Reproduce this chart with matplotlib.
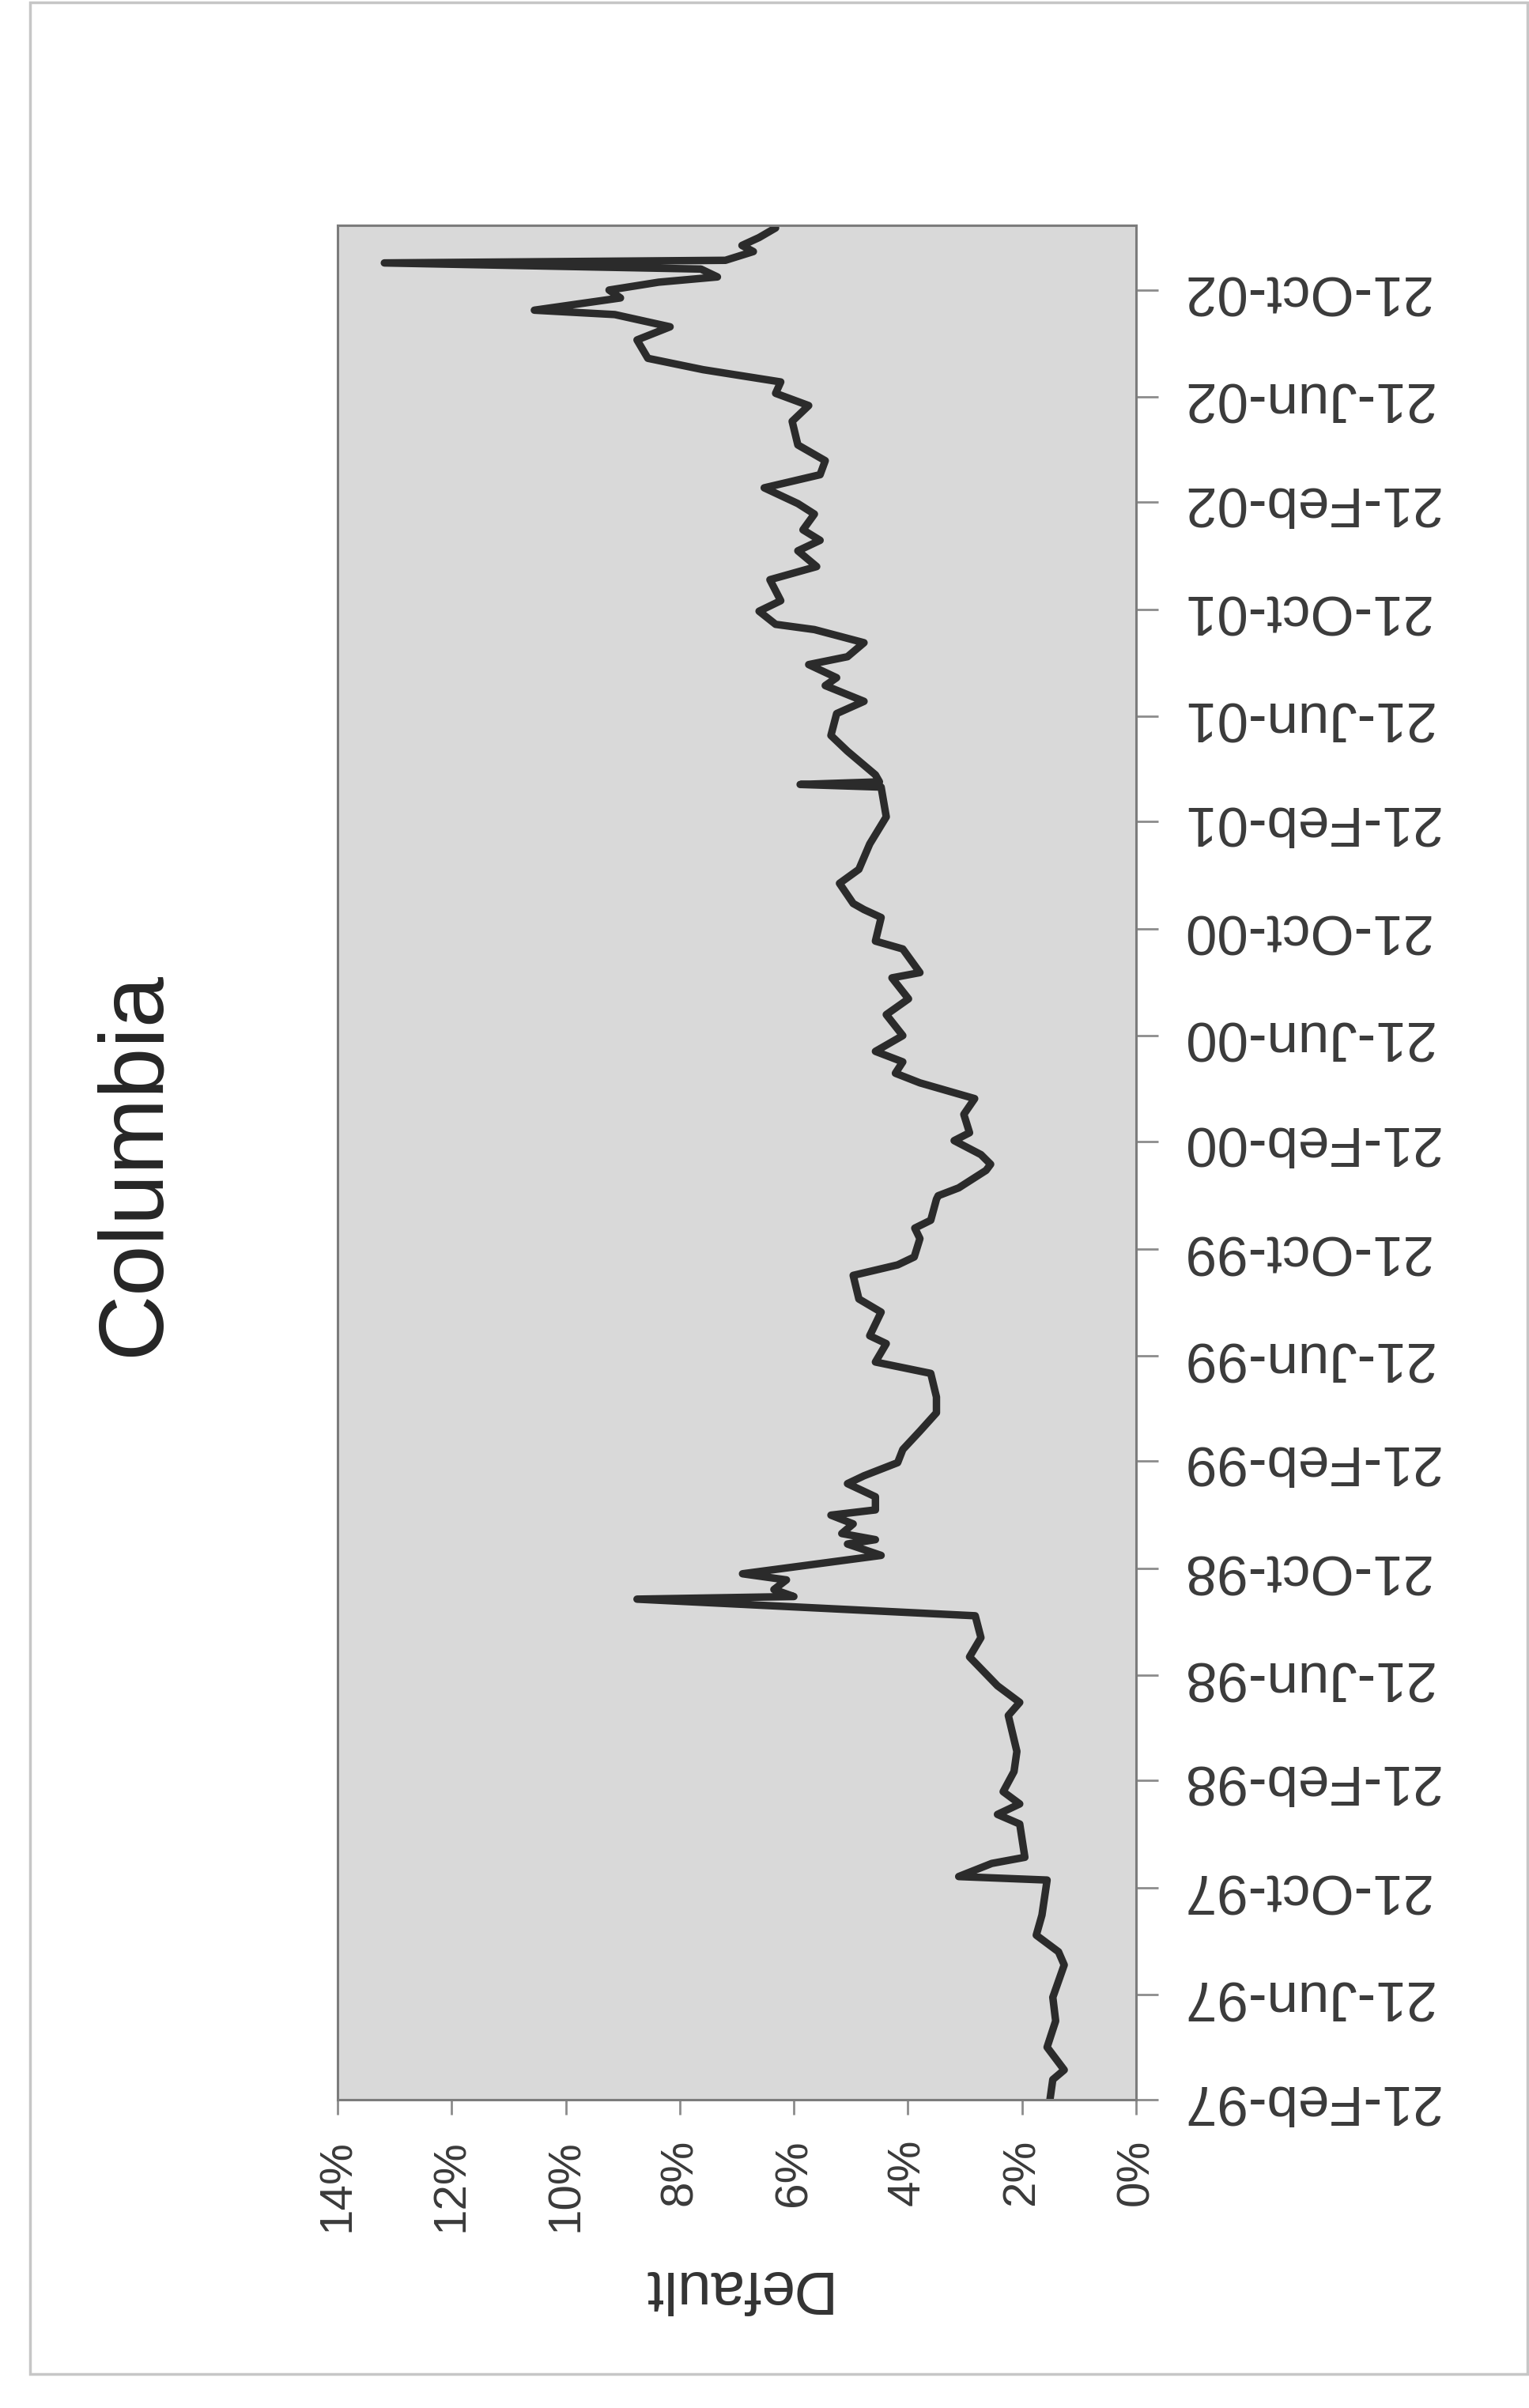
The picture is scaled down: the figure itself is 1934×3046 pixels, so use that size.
import matplotlib
matplotlib.use('Agg')
import numpy as np
import pandas as pd
import matplotlib.pyplot as plt
import matplotlib.dates as mdates
from matplotlib.patches import Rectangle

# Default rate series, observation day counted from 21-Feb-97
start_date = '1997-02-21'
obs_day = [0, 23, 34, 60, 90, 117, 154, 169, 188, 211, 251, 255, 270, 277, 315,
           326, 338, 352, 375, 398, 439, 454, 473, 506, 528, 553, 572, 575, 583,
           594, 601, 622, 635, 640, 647, 658, 668, 674, 689, 704, 713, 728, 743,
           764, 785, 803, 830, 843, 864, 873, 900, 915, 942, 954, 963, 984, 996,
           1005, 1029, 1033, 1042, 1062, 1069, 1080, 1096, 1105, 1126, 1144, 1162,
           1173, 1186, 1198, 1216, 1240, 1258, 1282, 1288, 1315, 1324, 1351, 1360,
           1367, 1390, 1406, 1435, 1466, 1500, 1503, 1506, 1514, 1541, 1559, 1584,
           1598, 1616, 1625, 1640, 1649, 1665, 1680, 1686, 1701, 1713, 1737, 1752,
           1770, 1782, 1794, 1812, 1824, 1842, 1857, 1873, 1891, 1918, 1936, 1950,
           1963, 1977, 1990, 2011, 2026, 2040, 2045, 2059, 2068, 2077, 2083, 2092,
           2099, 2102, 2112, 2119, 2128, 2139]
default_pct = [1.51, 1.46, 1.26, 1.56, 1.41, 1.46, 1.26, 1.36, 1.75, 1.65, 1.56, 3.11,
               2.53, 1.95, 2.04, 2.43, 2.04, 2.33, 2.14, 2.09, 2.24, 2.04, 2.43, 2.92,
               2.72, 2.82, 8.75, 6.00, 6.35, 6.13, 6.90, 4.47, 5.06, 4.57, 5.16, 4.96,
               5.35, 4.57, 4.57, 5.06, 4.77, 4.18, 4.09, 3.79, 3.50, 3.50, 3.60, 4.57,
               4.38, 4.67, 4.47, 4.86, 4.96, 4.18, 3.89, 3.79, 3.88, 3.60, 3.50, 3.47,
               3.11, 2.63, 2.55, 2.72, 3.19, 2.92, 3.02, 2.83, 3.79, 4.22, 4.09, 4.57,
               4.09, 4.38, 3.99, 4.28, 3.79, 4.09, 4.57, 4.47, 4.77, 4.96, 5.20, 4.86,
               4.67, 4.38, 4.47, 5.89, 4.50, 4.57, 5.06, 5.35, 5.25, 4.77, 5.45, 5.25,
               5.74, 5.06, 4.77, 5.64, 6.32, 6.61, 6.23, 6.42, 5.60, 5.93, 5.54, 5.84,
               5.64, 5.93, 6.52, 5.54, 5.45, 5.93, 6.03, 5.74, 6.32, 6.23, 7.59, 8.56,
               8.75, 8.17, 9.14, 10.55, 9.04, 9.24, 8.37, 7.34, 7.63, 13.18, 7.20, 6.71,
               6.91, 6.61, 6.32]
axis_days = 2142

date_labels = ['21-Feb-97', '21-Jun-97', '21-Oct-97', '21-Feb-98', '21-Jun-98',
               '21-Oct-98', '21-Feb-99', '21-Jun-99', '21-Oct-99', '21-Feb-00',
               '21-Jun-00', '21-Oct-00', '21-Feb-01', '21-Jun-01', '21-Oct-01',
               '21-Feb-02', '21-Jun-02', '21-Oct-02']
pct_ticks = [0, 2, 4, 6, 8, 10, 12, 14]

plt.rcParams['font.family'] = ['Liberation Sans', 'DejaVu Sans']

W, H = 1934, 3046
fig = plt.figure(figsize=(W / 100, H / 100), dpi=100)
fig.patch.set_facecolor('white')

# page border
fig.patches.append(Rectangle((38 / W, 1 - 3003 / H), (1932 - 38) / W, (3003 - 3) / H,
                             transform=fig.transFigure, fill=False,
                             ec='#c6c6c6', lw=2.5))

ax = fig.add_axes([427 / W, 1 - 2656 / H, 1010 / W, (2656 - 285) / H])
ax.set_facecolor('#d9d9d9')

start = pd.Timestamp(start_date)
dates = start + pd.to_timedelta(obs_day, unit='D')
ax.plot(default_pct, mdates.date2num(dates), color='#2b2b2b', lw=6.8,
        solid_joinstyle='round', solid_capstyle='round')

ax.set_xlim(14, 0)
ax.set_ylim(mdates.date2num(start), mdates.date2num(start + pd.Timedelta(days=axis_days)))

ax.set_xticks(pct_ticks)
ax.set_xticklabels([f'{v}%' for v in pct_ticks], rotation=90, ha='center', va='top')

ax.yaxis.tick_right()
tick_pos = mdates.date2num(pd.to_datetime(date_labels, format='%d-%b-%y'))
ax.set_yticks(tick_pos)
ax.set_yticklabels(date_labels, rotation=180, ha='left', va='center')

ax.tick_params(axis='y', direction='out', length=20, width=2, color='#8c8c8c',
               pad=20, labelsize=51, labelcolor='#3a3a3a')
ax.tick_params(axis='x', direction='out', length=14, width=2, color='#8c8c8c',
               pad=22, labelsize=42, labelcolor='#3a3a3a')

for s in ax.spines.values():
    s.set_color('#7c7c7c')
    s.set_linewidth(2.2)

fig.text(171 / W, 1 - 1472 / H, 'Columbia', rotation=90, fontsize=83,
         ha='center', va='center', color='#262626')
fig.text(927 / W, 1 - 2892 / H, 'Default', rotation=180, fontsize=55,
         ha='center', va='center', color='#333333')

fig.savefig('out.png', dpi=100)
